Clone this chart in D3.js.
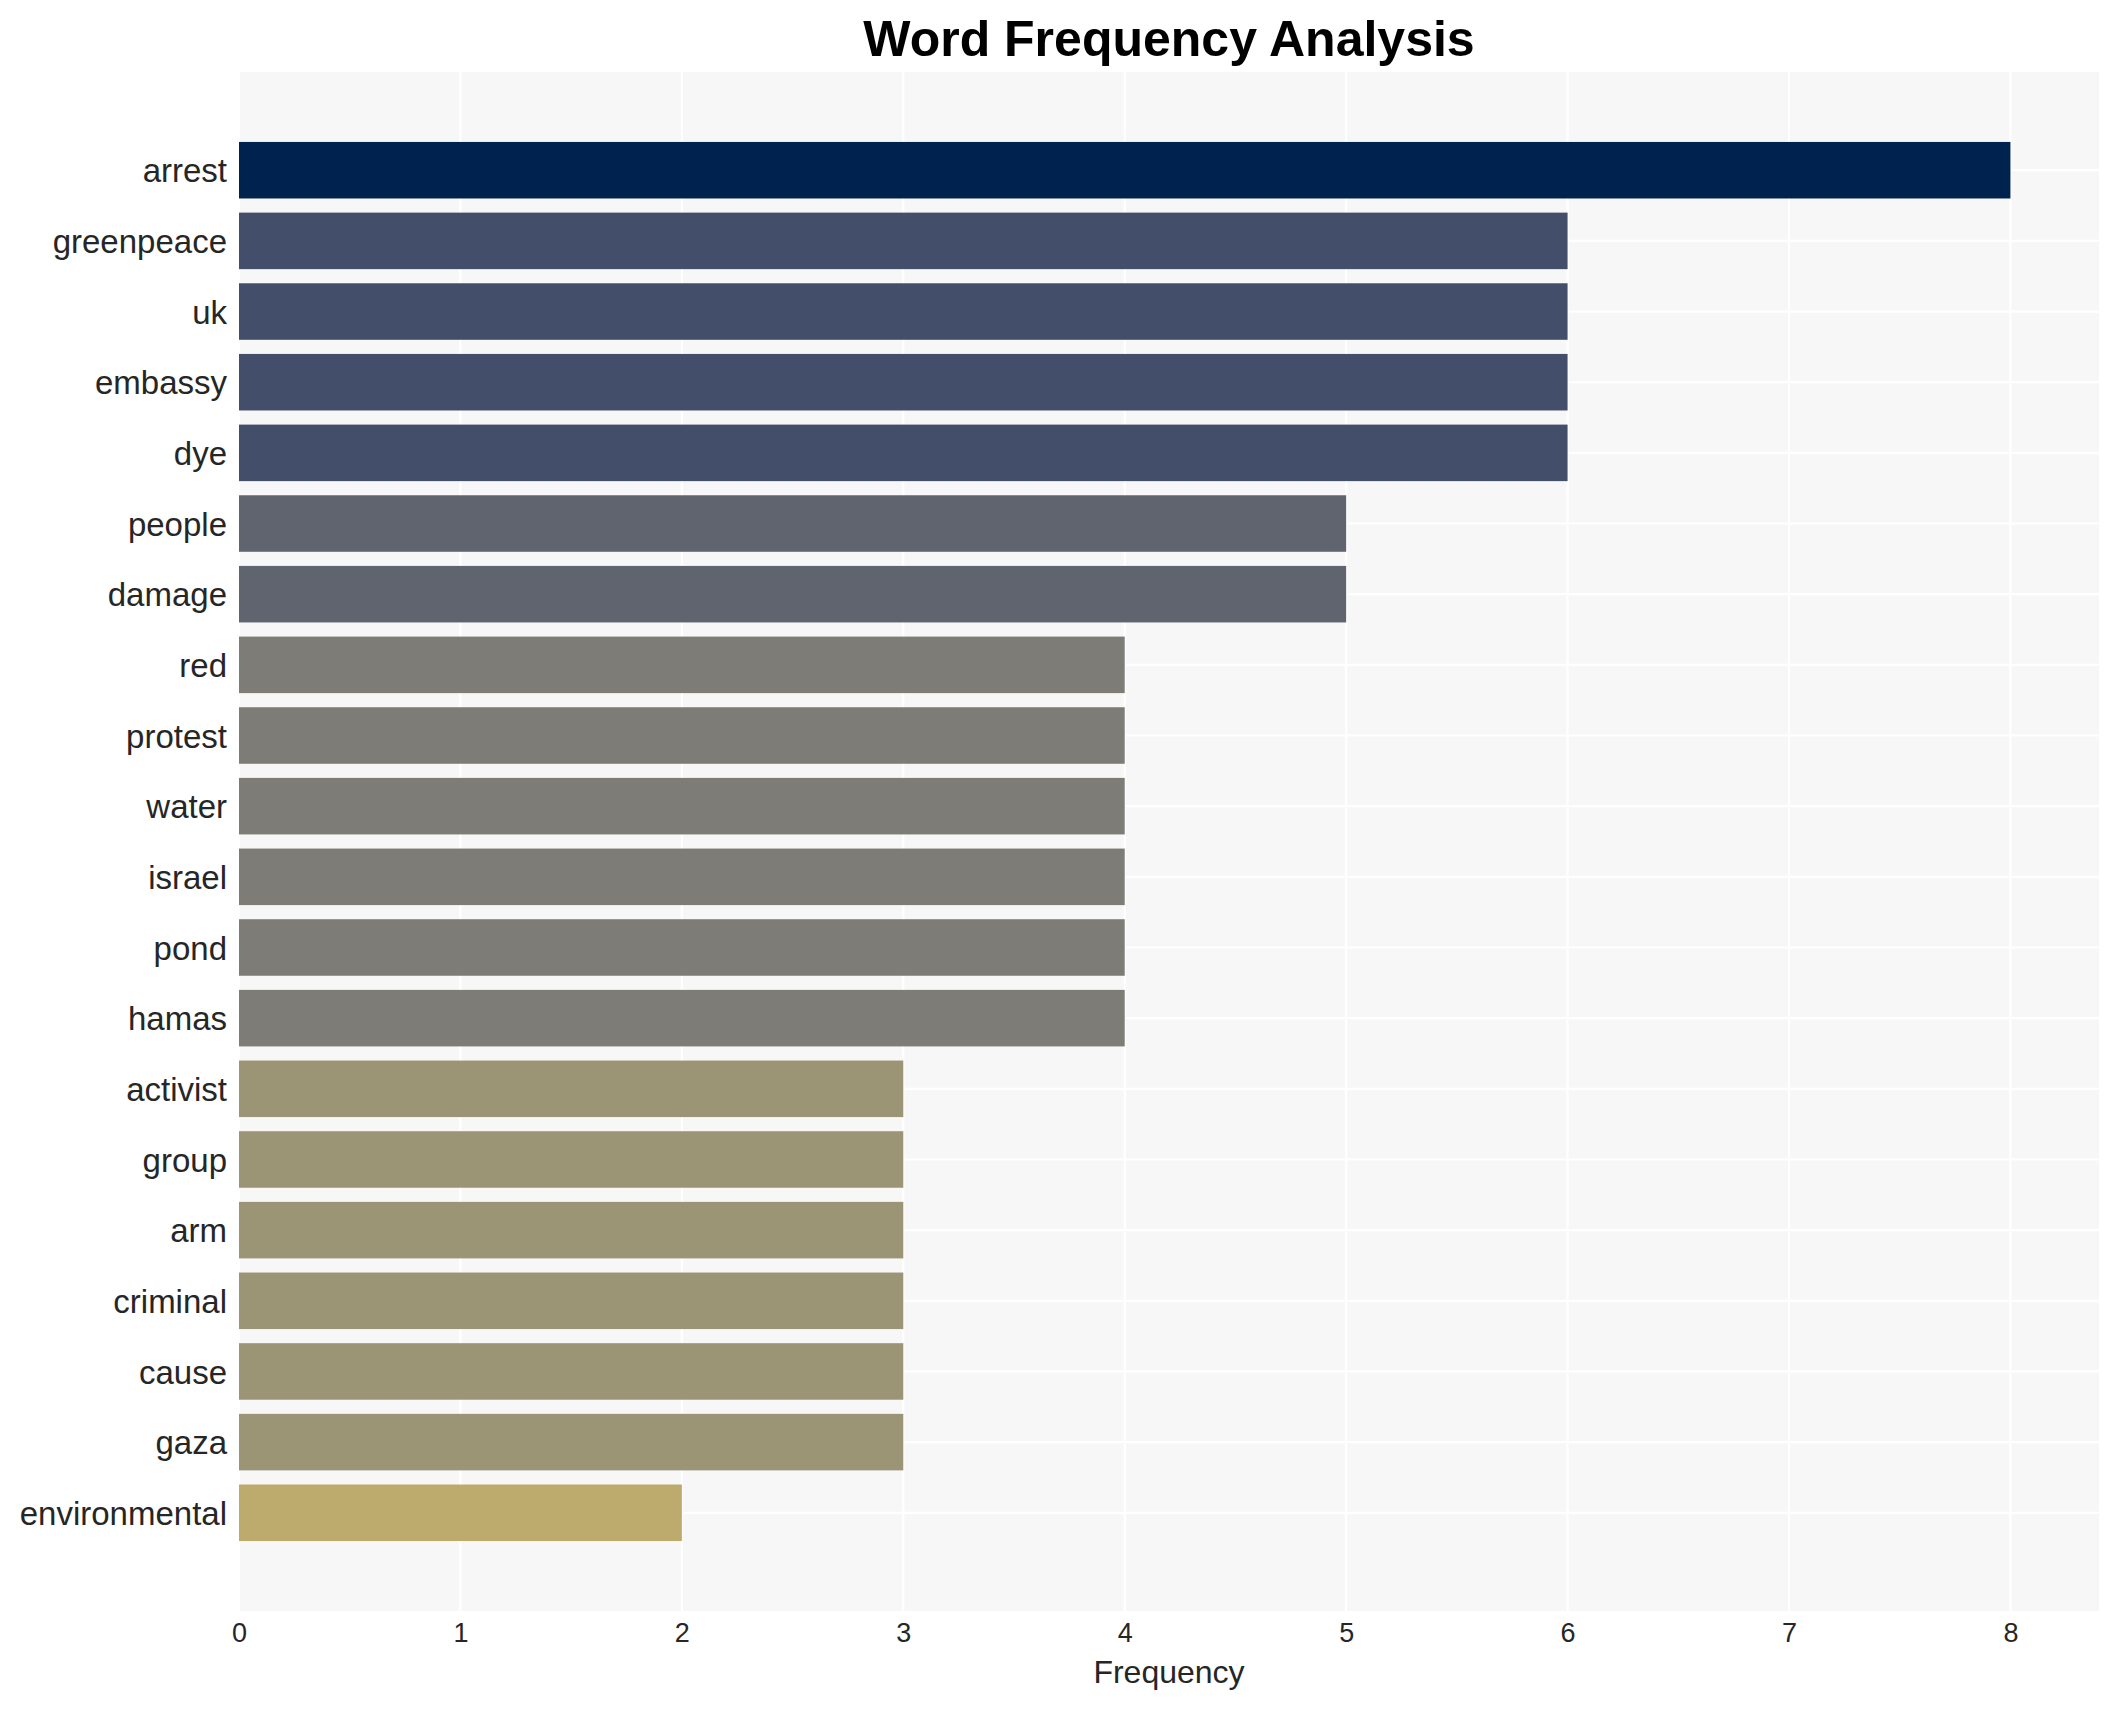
<!DOCTYPE html>
<html>
<head>
<meta charset="utf-8">
<script src="https://cdn.jsdelivr.net/npm/d3@7"></script>
<style>
  html, body { margin: 0; padding: 0; background: #ffffff; }
  svg { display: block; }
  text { font-family: "Liberation Sans", Arial, Helvetica, sans-serif; }
</style>
</head>
<body>
<svg id="chart" width="2119" height="1710"></svg>
<script>
// ---- data ----
const words = ["arrest", "greenpeace", "uk", "embassy", "dye", "people", "damage",
  "red", "protest", "water", "israel", "pond", "hamas", "activist", "group",
  "arm", "criminal", "cause", "gaza", "environmental"];
const frequencies = [8, 6, 6, 6, 6, 5, 5, 4, 4, 4, 4, 4, 4, 3, 3, 3, 3, 3, 3, 2];
const xTicks = [0, 1, 2, 3, 4, 5, 6, 7, 8];
const titleText = "Word Frequency Analysis";
const xLabel = "Frequency";

// ---- layout ----
const W = 2119, H = 1710;
const plot = { left: 239, right: 2099, top: 72, bottom: 1611 };

const svg = d3.select("#chart");

const x = d3.scaleLinear().domain([0, 8.4]).range([plot.left, plot.right]);
const y = d3.scaleLinear().domain([-1.39, words.length - 1 + 1.39]).range([plot.top, plot.bottom]);
const step = y(1) - y(0);
const barH = step * 0.8;

const color = d3.scaleLinear()
  .domain([2, 3, 4, 5, 6, 8])
  .range(["#bcab6c", "#9b9475", "#7d7c77", "#60646f", "#434e6b", "#00224e"])
  .interpolate(d3.interpolateRgb);

// plot background
svg.append("rect")
  .attr("x", plot.left).attr("y", plot.top)
  .attr("width", plot.right - plot.left).attr("height", plot.bottom - plot.top)
  .attr("fill", "#f7f7f7");

// grid lines
svg.append("g").selectAll("line.vg").data(xTicks).join("line")
  .attr("x1", d => x(d)).attr("x2", d => x(d))
  .attr("y1", plot.top).attr("y2", plot.bottom)
  .attr("stroke", "#ffffff").attr("stroke-width", 2.2);

svg.append("g").selectAll("line.hg").data(words).join("line")
  .attr("x1", plot.left).attr("x2", plot.right)
  .attr("y1", (d, i) => y(i)).attr("y2", (d, i) => y(i))
  .attr("stroke", "#ffffff").attr("stroke-width", 2.2);

// bars
svg.append("g").selectAll("rect").data(words).join("rect")
  .attr("x", x(0))
  .attr("y", (d, i) => y(i) - barH / 2)
  .attr("width", (d, i) => x(frequencies[i]) - x(0))
  .attr("height", barH)
  .attr("fill", (d, i) => color(frequencies[i]));

// y axis labels
const yAxis = d3.axisLeft(y)
  .tickValues(d3.range(words.length))
  .tickFormat(i => words[i])
  .tickSize(0)
  .tickPadding(12);
const yg = svg.append("g").attr("transform", `translate(${plot.left},0)`).call(yAxis);
yg.select(".domain").remove();
yg.selectAll("text")
  .attr("font-size", 33)
  .attr("fill", "#262626")
  .attr("dy", "0.35em")
  .style("font-family", "'Liberation Sans', Arial, sans-serif");

// x axis
const xAxis = d3.axisBottom(x).tickValues(xTicks).tickFormat(d3.format("d")).tickSize(0).tickPadding(12);
const xg = svg.append("g").attr("transform", `translate(0,${plot.bottom})`).call(xAxis);
xg.select(".domain").remove();
xg.selectAll("text")
  .attr("font-size", 27)
  .attr("fill", "#262626")
  .attr("dy", "0.71em")
  .style("font-family", "'Liberation Sans', Arial, sans-serif");

// x axis label
svg.append("text")
  .attr("x", (plot.left + plot.right) / 2)
  .attr("y", 1683)
  .attr("text-anchor", "middle")
  .attr("font-size", 32)
  .attr("fill", "#262626")
  .text(xLabel);

// title
svg.append("text")
  .attr("x", (plot.left + plot.right) / 2)
  .attr("y", 56)
  .attr("text-anchor", "middle")
  .attr("font-size", 50)
  .attr("font-weight", "bold")
  .attr("fill", "#000000")
  .text(titleText);
</script>
</body>
</html>
